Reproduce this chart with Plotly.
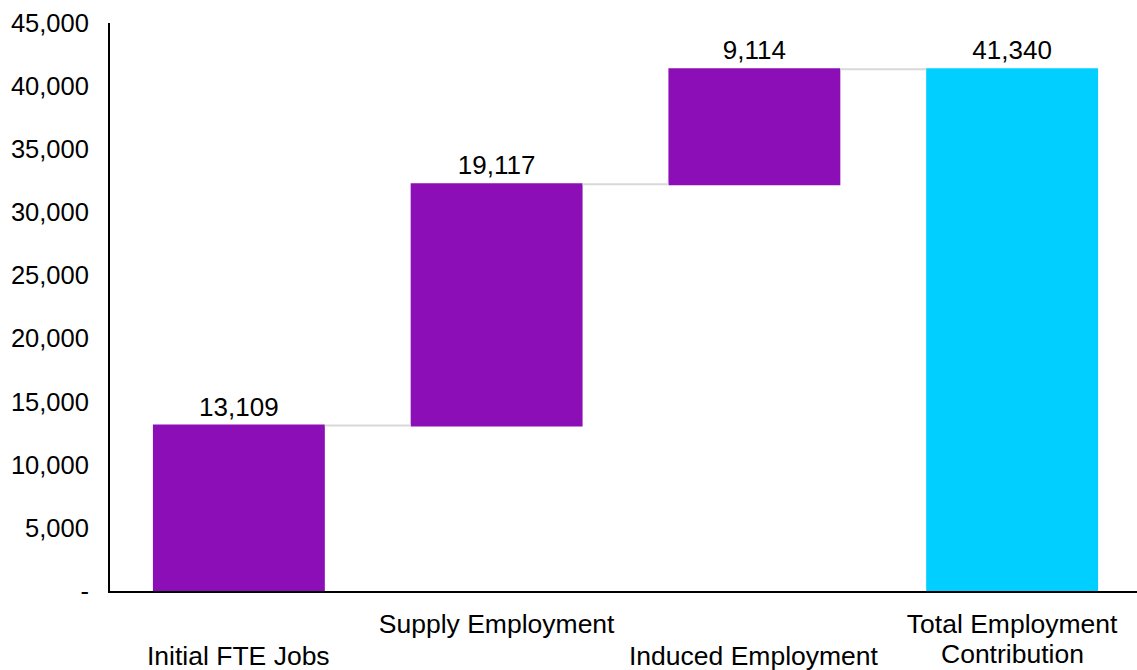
import plotly.graph_objects as go

categories = ["Initial FTE Jobs", "Supply Employment", "Induced Employment", "Total Employment Contribution"]
upper_labels = ["", "Supply Employment", "", "Total Employment"]
lower_labels = ["Initial FTE Jobs", "", "Induced Employment", "Contribution"]
values = [13109, 19117, 9114, 41340]
measures = ["relative", "relative", "relative", "total"]
y_ticks = [0, 5000, 10000, 15000, 20000, 25000, 30000, 35000, 40000, 45000]
y_tick_labels = ["-"] + [f"{v:,}" for v in y_ticks[1:]]

PURPLE = "#8B0EB6"
CYAN = "#00CFFF"
FONT = "Liberation Sans, Arial, sans-serif"

fig = go.Figure(go.Waterfall(
    x=categories,
    y=[v if m == "relative" else 0 for v, m in zip(values, measures)],
    measure=measures,
    text=[f"{v:,}" for v in values],
    textposition="outside",
    textfont=dict(family=FONT, size=26, color="black"),
    increasing=dict(marker=dict(color=PURPLE)),
    decreasing=dict(marker=dict(color=PURPLE)),
    totals=dict(marker=dict(color=CYAN)),
    connector=dict(line=dict(color="#D9D9D9", width=2), mode="between"),
    cliponaxis=False,
    hoverinfo="skip",
))

for cat, lab in zip(categories, lower_labels):
    if lab:
        fig.add_annotation(
            x=cat, xref="x", y=-0.114 if lab != "Contribution" else -0.111, yref="paper",
            text=lab, showarrow=False, yanchor="middle", xanchor="center",
            font=dict(family=FONT, size=26.5, color="black"),
        )

fig.update_layout(
    width=1141, height=670,
    margin=dict(l=110, r=0, t=23, b=79),
    plot_bgcolor="white", paper_bgcolor="white",
    showlegend=False,
    waterfallgap=0.333,
    font=dict(family=FONT, size=26, color="black"),
)
fig.update_xaxes(
    tickmode="array", tickvals=categories, ticktext=upper_labels,
    showline=True, linecolor="black", linewidth=2,
    showgrid=False, ticks="", tickfont=dict(size=26.5),
    ticklabelstandoff=8, automargin=False,
)
fig.update_yaxes(
    range=[0, 45000], tickmode="array", tickvals=y_ticks, ticktext=y_tick_labels,
    showline=True, linecolor="black", linewidth=2,
    showgrid=False, zeroline=False, ticks="", ticklabelstandoff=14,
    tickfont=dict(size=25.5), automargin=False,
)

fig.write_html(
    "out.html",
    config={"displayModeBar": False},
    post_script="document.body.style.margin='0';document.body.style.overflow='hidden';",
)
